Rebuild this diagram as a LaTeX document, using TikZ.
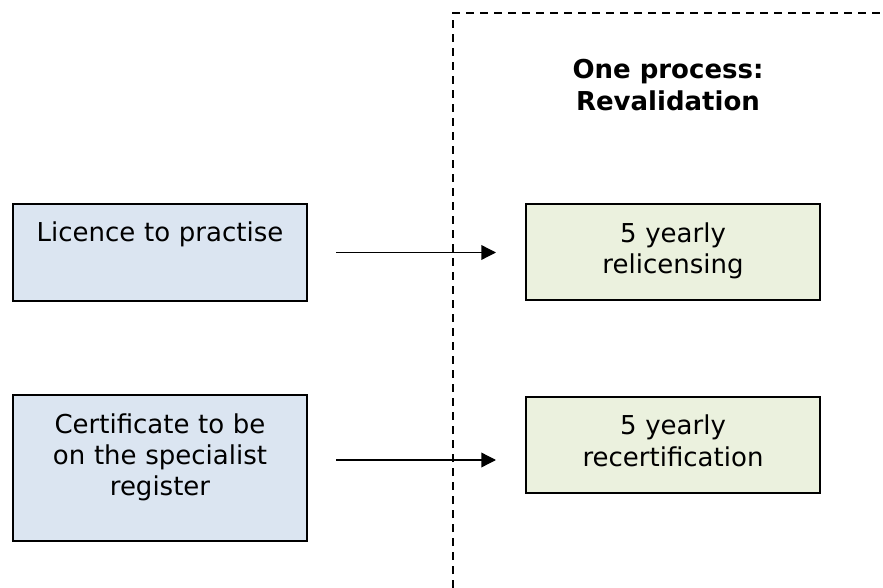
\documentclass[tikz,border=0pt]{standalone}
\usepackage{fontspec}
\setmainfont{DejaVu Sans}
\usetikzlibrary{arrows.meta,calc,positioning}
\definecolor{licBlue}{HTML}{DBE5F1}
\definecolor{revGreen}{HTML}{EBF1DE}
\tikzset{bx/.style={draw, line width=1.5pt, align=center, inner xsep=2pt,
  inner ysep=0pt, text width=216.5pt, text height=28.5pt}}
\tikzset{lb/.style={bx, fill=licBlue}}
\tikzset{gb/.style={bx, fill=revGreen}}
\tikzset{ar/.style={draw, line width=1pt, -{Triangle[length=11pt,width=11pt]}}}
\tikzset{dsh/.style={draw, line width=1.4pt, dash pattern=on 6pt off 4.5pt}}

\begin{document}
\begin{tikzpicture}[x=0.75pt,y=-0.75pt]
        \tikzstyle{every node}=[font=\fontsize{19.5}{23.5}\selectfont]
        \useasboundingbox (0,0) rectangle (883,588);
        %% boundary of the revalidation side
        \draw [dsh] (453,588) -- (453,13) -- (883,13);
        \node (title) at (668,85) [align=center, font=\fontsize{19.5}{23.5}\selectfont\bfseries]
            {One process:\\Revalidation};
        %% left: two separate documents
        \node (lic) at (160,252.5) [lb, text depth=44.25pt] {Licence to practise};
        \node (cert) at (160,468) [lb, text depth=81pt]
            {Certificate to be\\on the specialist\\register};
        %% right: the five yearly steps
        \node (rel) at (673,252.5) [gb, text depth=43.5pt] {5 yearly\\relicensing};
        \node (recert) at (673,445) [gb, text depth=43.5pt] {5 yearly\\recertification};
        \draw [ar] ($(lic.east)+(28,0)$) to ($(rel.west)+(-29,0)$);
        \draw [ar] ($(cert.east)+(28,-8)$) to ($(recert.west)+(-29,15)$);
    \end{tikzpicture}
\end{document}
